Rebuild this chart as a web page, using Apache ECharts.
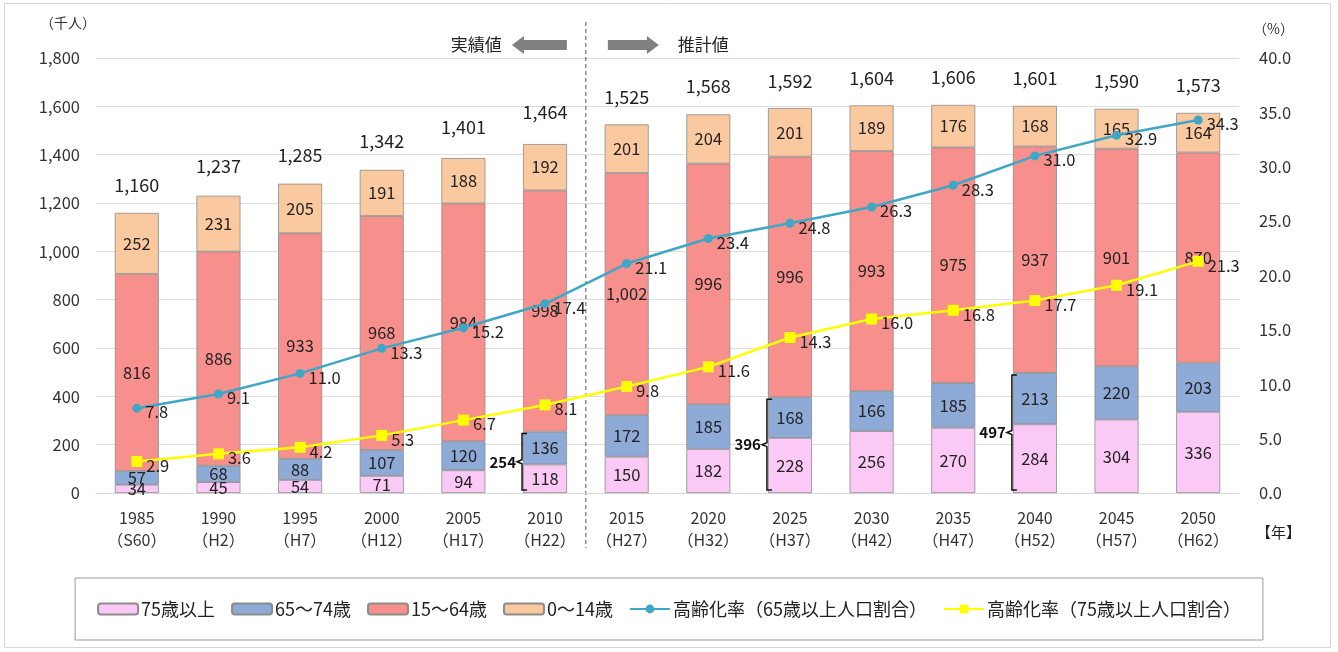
<!DOCTYPE html>
<html>
<head>
<meta charset="utf-8">
<script src="https://cdn.jsdelivr.net/npm/echarts@6/dist/echarts.min.js"></script>
<style>
  html, body { margin: 0; padding: 0; background: #fff; }
  #chart { width: 1338px; height: 652px; }
</style>
</head>
<body>
<div id="chart"></div>
<script>
// 年次
const years = ['1985\n（S60）', '1990\n（H2）', '1995\n（H7）', '2000\n（H12）', '2005\n（H17）', '2010\n（H22）', '2015\n（H27）',
  '2020\n（H32）', '2025\n（H37）', '2030\n（H42）', '2035\n（H47）', '2040\n（H52）', '2045\n（H57）', '2050\n（H62）'];

// 人口（千人）
const age75 = [34, 45, 54, 71, 94, 118, 150, 182, 228, 256, 270, 284, 304, 336];
const age65 = [57, 68, 88, 107, 120, 136, 172, 185, 168, 166, 185, 213, 220, 203];
const age15 = [816, 886, 933, 968, 984, 998, 1002, 996, 996, 993, 975, 937, 901, 870];
const age0 = [252, 231, 205, 191, 188, 192, 201, 204, 201, 189, 176, 168, 165, 164];
const totals = [1160, 1237, 1285, 1342, 1401, 1464, 1525, 1568, 1592, 1604, 1606, 1601, 1590, 1573];

// 高齢化率（%）
const rate65 = [7.8, 9.1, 11.0, 13.3, 15.2, 17.4, 21.1, 23.4, 24.8, 26.3, 28.3, 31.0, 32.9, 34.3];
const rate75 = [2.9, 3.6, 4.2, 5.3, 6.7, 8.1, 9.8, 11.6, 14.3, 16.0, 16.8, 17.7, 19.1, 21.3];

// 65歳以上人口の括弧
const bracketIdx = [5, 8, 11];
const bracketVal = [254, 396, 497];

const FONT = '"Noto Sans CJK JP", "Noto Sans", sans-serif';
const BAR_W = 44;

function barSeries(name, data, color) {
  return {
    name: name,
    type: 'bar',
    stack: 'pop',
    barWidth: BAR_W,
    yAxisIndex: 0,
    itemStyle: { color: color, borderColor: '#8c8c8c', borderWidth: 0.8 },
    label: {
      show: true,
      position: 'inside',
      color: '#222',
      fontSize: 16.5,
      fontFamily: FONT,
      formatter: p => p.value.toLocaleString('en-US')
    },
    data: data
  };
}

function lineSeries(name, data, color, symbol, size) {
  return {
    name: name,
    type: 'line',
    yAxisIndex: 1,
    symbol: symbol,
    symbolSize: size,
    itemStyle: { color: color },
    lineStyle: { color: color, width: 2.5 },
    label: {
      show: true,
      position: 'right',
      distance: 4,
      offset: [0, 4],
      color: '#222',
      fontSize: 16.5,
      fontFamily: FONT,
      formatter: p => p.value.toFixed(1)
    },
    z: 5,
    data: data
  };
}

let option = {
  animation: false,
  textStyle: { fontFamily: FONT },
  grid: { left: 96, right: 99, top: 58, bottom: 159 },
  legend: {
    data: ['75歳以上', '65～74歳', '15～64歳', '0～14歳', '高齢化率（65歳以上人口割合）', '高齢化率（75歳以上人口割合）'],
    bottom: 12,
    left: 'center',
    itemWidth: 40,
    itemHeight: 11,
    itemGap: 16,
    padding: [22, 22],
    borderColor: '#9a9a9a',
    borderWidth: 1,
    textStyle: { fontSize: 18, color: '#222', fontFamily: FONT, padding: [0, 0, 0, -2] }
  },
  xAxis: {
    type: 'category',
    data: years,
    axisTick: { show: false },
    axisLine: { lineStyle: { color: '#d9d9d9' } },
    axisLabel: { color: '#333', fontSize: 16, lineHeight: 22, margin: 14, interval: 0, fontFamily: FONT }
  },
  yAxis: [
    {
      type: 'value',
      min: 0, max: 1800, interval: 200,
      name: '（千人）',
      nameLocation: 'end',
      nameGap: 28,
      nameTextStyle: { color: '#333', fontSize: 14, align: 'right', padding: [0, 0, 0, 0] },
      axisLine: { show: false },
      axisTick: { show: false },
      splitLine: { lineStyle: { color: '#dedede' } },
      axisLabel: { color: '#333', fontSize: 16.5, margin: 16, formatter: v => v.toLocaleString('en-US') }
    },
    {
      type: 'value',
      min: 0, max: 40, interval: 5,
      name: '（%）',
      nameLocation: 'end',
      nameGap: 22,
      nameTextStyle: { color: '#333', fontSize: 14, align: 'left', padding: [0, 0, 0, 14] },
      axisLine: { show: false },
      axisTick: { show: false },
      splitLine: { show: false },
      axisLabel: { color: '#333', fontSize: 16.5, margin: 20, formatter: v => v.toFixed(1) }
    }
  ],
  series: [
    barSeries('75歳以上', age75, '#fbc9f6'),
    barSeries('65～74歳', age65, '#8eaad6'),
    barSeries('15～64歳', age15, '#f7908d'),
    barSeries('0～14歳', age0, '#fac9a0'),
    {
      name: 'total',
      type: 'line',
      yAxisIndex: 0,
      symbol: 'circle',
      symbolSize: 1,
      itemStyle: { color: 'rgba(0,0,0,0)' },
      lineStyle: { width: 0, opacity: 0 },
      label: {
        show: true,
        position: 'top',
        distance: 18,
        color: '#222',
        fontSize: 18,
        fontFamily: FONT,
        formatter: p => p.value.toLocaleString('en-US')
      },
      data: totals
    },
    lineSeries('高齢化率（65歳以上人口割合）', rate65, '#3fa6c6', 'circle', 9),
    lineSeries('高齢化率（75歳以上人口割合）', rate75, '#ffff00', 'rect', 11),
    {
      name: 'bracket',
      type: 'custom',
      yAxisIndex: 0,
      z: 6,
      renderItem: function (params, api) {
        const idx = api.value(0);
        const p0 = api.coord([idx, 0]);
        const p1 = api.coord([idx, api.value(1)]);
        const x = p0[0] - BAR_W / 2 - 1;
        const yb = p0[1] - 3;
        const yt = p1[1] + 2;
        const ym = (yb + yt) / 2;
        return {
          type: 'group',
          children: [
            {
              type: 'polyline',
              shape: { points: [[x + 5, yt], [x, yt], [x, ym - 2], [x - 5, ym], [x, ym + 2], [x, yb], [x + 5, yb]] },
              style: { stroke: '#111', lineWidth: 1.5, fill: null }
            },
            {
              type: 'text',
              x: x - 6,
              y: ym,
              style: { text: String(api.value(1)), fill: '#111', fontSize: 15, fontWeight: 'bold', fontFamily: FONT, align: 'right', verticalAlign: 'middle' }
            }
          ]
        };
      },
      data: bracketIdx.map((d, i) => [d, bracketVal[i]])
    }
  ]
};

const chart = echarts.init(document.getElementById('chart'));
chart.setOption(option);

// 実績値 / 推計値 の区切り線と矢印
const xa = chart.convertToPixel({ xAxisIndex: 0 }, 5);
const xb = chart.convertToPixel({ xAxisIndex: 0 }, 6);
const xd = (xa + xb) / 2;
const ay = 45;

chart.setOption({
  graphic: [
    { type: 'rect', shape: { x: 4.5, y: 3.5, width: 1326, height: 644 }, style: { fill: null, stroke: '#d6d6d6', lineWidth: 1 } },
    { type: 'line', shape: { x1: xd, y1: 22, x2: xd, y2: 548 }, style: { stroke: '#555', lineWidth: 1, lineDash: [4, 3] } },
    { type: 'polygon', shape: { points: [[xd - 74, ay], [xd - 62, ay - 9], [xd - 62, ay - 5], [xd - 19, ay - 5], [xd - 19, ay + 5], [xd - 62, ay + 5], [xd - 62, ay + 9]] }, style: { fill: '#808080' } },
    { type: 'polygon', shape: { points: [[xd + 73, ay], [xd + 61, ay - 9], [xd + 61, ay - 5], [xd + 22, ay - 5], [xd + 22, ay + 5], [xd + 61, ay + 5], [xd + 61, ay + 9]] }, style: { fill: '#808080' } },
    { type: 'text', x: xd - 84, y: ay, style: { text: '実績値', fill: '#222', fontSize: 17, fontFamily: FONT, align: 'right', verticalAlign: 'middle' } },
    { type: 'text', x: xd + 92, y: ay, style: { text: '推計値', fill: '#222', fontSize: 17, fontFamily: FONT, align: 'left', verticalAlign: 'middle' } },
    { type: 'text', x: 1256, y: 532, style: { text: '【年】', fill: '#222', fontSize: 15, fontFamily: FONT, align: 'left', verticalAlign: 'middle' } }
  ]
});
</script>
</body>
</html>
